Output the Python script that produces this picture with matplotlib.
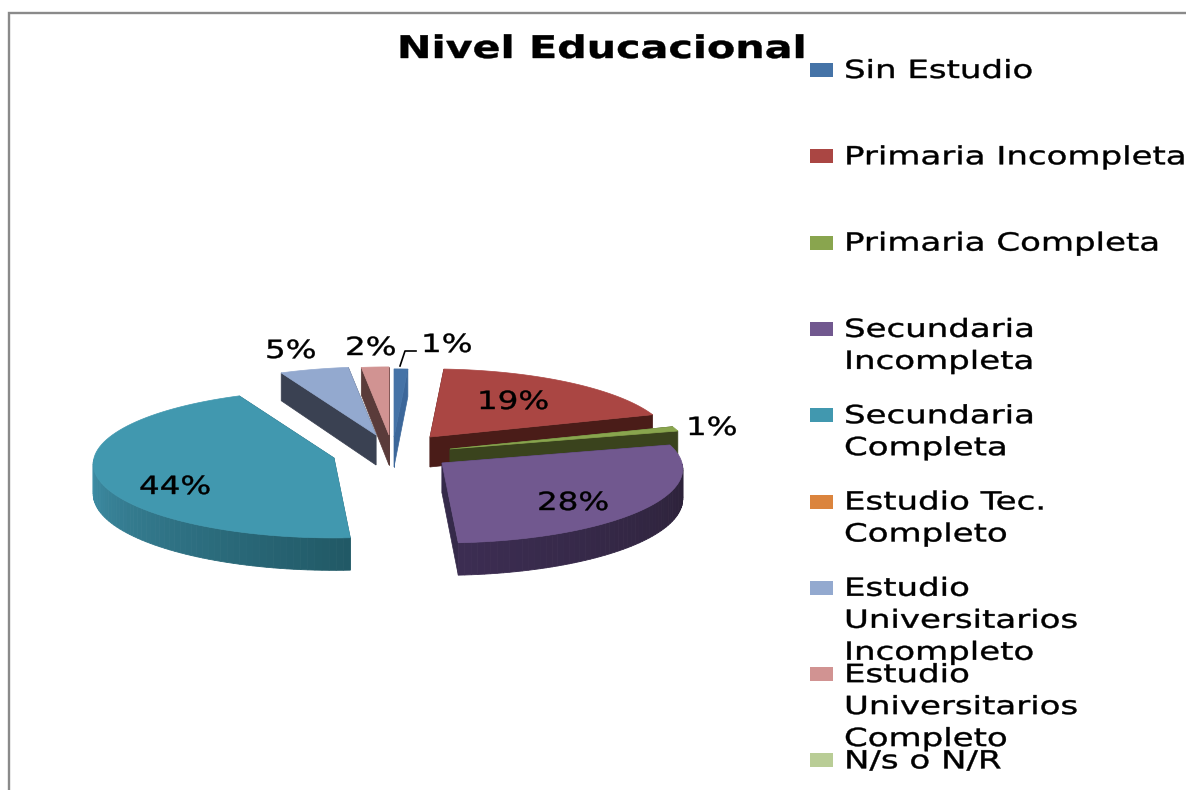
import numpy as np
import matplotlib
matplotlib.use('Agg')
import matplotlib.pyplot as plt
import matplotlib.patheffects as path_effects
from matplotlib.colors import to_rgb
from matplotlib.patches import Polygon, Rectangle
from matplotlib.transforms import Affine2D

# Data
categories = ['Sin Estudio', 'Primaria Incompleta', 'Primaria Completa',
              'Secundaria\nIncompleta', 'Secundaria\nCompleta',
              'Estudio Tec.\nCompleto', 'Estudio\nUniversitarios\nIncompleto',
              'Estudio\nUniversitarios\nCompleto', 'N/s o N/R']
values = [1, 19, 1, 28, 44, 0, 5, 2, 0]

# Styles, one per category
colors = ['#4573A7', '#AA4643', '#89A54E', '#71588F', '#4198AF',
          '#DB843D', '#93A9CF', '#D19392', '#B9CD96']
cut_colors = ['#3C679A', '#4A1C18', '#3A431D', '#352A4A', '#2A6070',
              '#8A5020', '#3A4152', '#5A3B3A', '#707F58']
rim_colors = {3: ('#2B2137', '#3C2D52'), 4: ('#215966', '#3F8FA7')}

# Exploded position of each slice's point, in pixels
tips = {0: (394, 437), 1: (430, 437), 2: (450, 449), 3: (442, 463),
        4: (334, 458), 6: (376, 435), 7: (389, 435)}
# left end and middle height of each percent label
label_pos = {0: (421, 345), 1: (477, 402), 2: (686, 428), 3: (537, 503),
             4: (139, 487), 6: (265, 351), 7: (345, 348)}
draw_order = [6, 7, 0, 1, 2, 3, 4]

RX, RY, PERSP, DEPTH = 240, 74, 0.08, 30
FS = 18
LEGEND_STRETCH = 1.36
LABEL_STRETCH = 1.3


class StretchX(path_effects.AbstractPathEffect):
    # the source picture is a stretched screenshot, so widen the glyphs
    def __init__(self, sx, weight=0.3):
        super().__init__()
        self.sx = sx
        self.weight = weight

    def draw_path(self, renderer, gc, tpath, affine, rgbFace=None):
        gc.set_linewidth(self.weight)
        gc.set_foreground('black')
        renderer.draw_path(gc, tpath, Affine2D().scale(self.sx, 1) + affine, rgbFace)


def rim(tip, theta):
    # point on the tilted circle, theta clockwise from 12 o'clock
    k = 1 - PERSP * np.cos(theta)
    return np.column_stack((tip[0] + RX * k * np.sin(theta),
                            tip[1] - RY * k * np.cos(theta)))


def drop(theta):
    # wall height grows a little towards the viewer
    k = 1 - PERSP * np.cos(theta)
    return np.column_stack((np.zeros_like(theta), DEPTH * k))


fig = plt.figure(figsize=(11.86, 7.90), dpi=100)
ax = fig.add_axes([0, 0, 1, 1])
ax.set_xlim(0, 1186)
ax.set_ylim(790, 0)
ax.axis('off')

# chart frame
ax.plot([9.3, 9.3, 1186], [790, 13, 13], color='#8a8a8a', lw=1.7, solid_joinstyle='miter')

edges = np.cumsum([0] + values) / sum(values) * 2 * np.pi
for i in draw_order:
    tip = tips[i]
    theta = np.linspace(edges[i], edges[i + 1], 80)
    arc = rim(tip, theta)
    walls = drop(theta)
    # the two cut faces
    for end, d in ((arc[0], walls[0]), (arc[-1], walls[-1])):
        face = [tip, end, end + d, np.array(tip) + [0, DEPTH]]
        ax.add_patch(Polygon(face, closed=True, fc=cut_colors[i], ec=cut_colors[i], lw=0.5))
    # outer wall, front half only, shaded along the arc
    if i in rim_colors:
        c0, c1 = (np.array(to_rgb(c)) for c in rim_colors[i])
        front = theta[np.cos(theta) < 0]
        fine = np.linspace(front.min(), front.max(), 60)
        pts = rim(tip, fine)
        low = pts + drop(fine)
        for j in range(len(fine) - 1):
            col = c0 + (c1 - c0) * j / (len(fine) - 2)
            quad = [pts[j], pts[j + 1], low[j + 1], low[j]]
            ax.add_patch(Polygon(quad, closed=True, fc=col, ec=col, lw=0.6))
    # top face
    top = np.vstack(([tip], arc))
    ax.add_patch(Polygon(top, closed=True, fc=colors[i], ec=colors[i], lw=0.5))

# percent labels
for i, (x, y) in label_pos.items():
    ax.text(x, y, f'{values[i]}%', fontsize=FS, ha='left', va='center', color='black',
            path_effects=[StretchX(LABEL_STRETCH)])

# leader line for the first label
ax.plot([400, 405, 416], [366, 351, 351], color='black', lw=1.2)

ax.text(397, 58, 'Nivel Educacional', fontsize=22.5, fontweight='bold', ha='left', va='baseline',
        path_effects=[StretchX(1.32)])

# legend
for i, name in enumerate(categories):
    y = 70 + i * 86.3
    ax.add_patch(Rectangle((810, y - 7), 23, 14, fc=colors[i], ec='none'))
    ax.text(844, y - 11, name, fontsize=FS, ha='left', va='top', linespacing=1.42, color='black',
            path_effects=[StretchX(LEGEND_STRETCH)])

fig.savefig('out.png', dpi=100)
